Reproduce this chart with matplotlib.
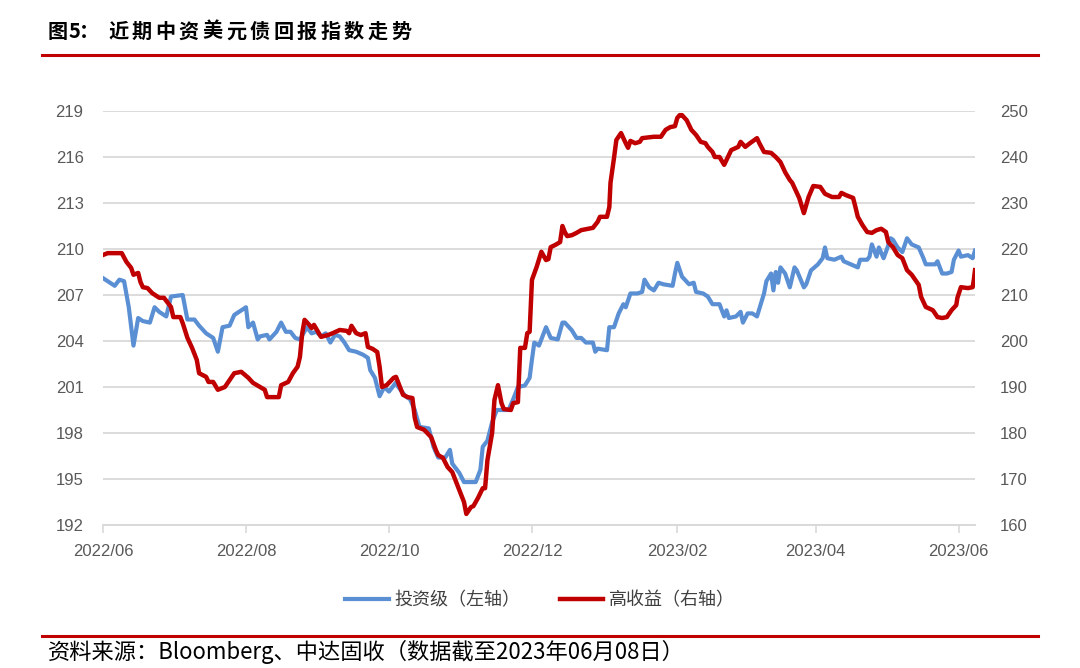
import pandas as pd
import matplotlib
matplotlib.use("Agg")
import matplotlib.pyplot as plt
import matplotlib.dates as mdates
from matplotlib.lines import Line2D

plt.rcParams['font.family'] = ['Noto Sans CJK SC', 'DejaVu Sans']

start = pd.Timestamp("2022-06-01")

# investment grade index (left axis), days counted from 2022-06-01
ig_days = [0, 5, 7, 9, 11, 13, 15, 17, 20, 22, 24, 27, 29, 34, 36, 39, 41, 44, 47, 49,
           51, 54, 56, 61, 62, 64, 66, 67, 70, 71, 74, 76, 78, 80, 82, 84, 87, 89, 91, 93,
           95, 97, 99, 101, 103, 105, 108, 111, 113, 114, 116, 118, 120, 122, 125, 126, 129, 131, 133, 135,
           139, 141, 143, 146, 148, 149, 152, 154, 157, 159, 161, 162, 164, 166, 168, 170, 173, 175, 177, 180,
           182, 183, 184, 186, 189, 191, 194, 196, 197, 200, 202, 204, 206, 209, 210, 211, 215, 216, 218, 220,
           222, 223, 225, 228, 230, 231, 233, 235, 237, 239, 243, 244, 245, 247, 250, 252, 253, 256, 258, 260,
           263, 265, 266, 267, 270, 272, 273, 275, 277, 279, 282, 283, 285, 286, 287, 288, 289, 291, 293, 295,
           296, 299, 300, 302, 305, 307, 308, 309, 312, 315, 316, 319, 322, 323, 326, 327, 328, 330, 331, 333,
           334, 336, 337, 339, 341, 343, 345, 348, 350, 351, 355, 356, 358, 360, 362, 363, 365, 366, 369, 371,
           372]
ig_vals = [208.1, 207.6, 208.0, 207.9, 206.2, 203.7, 205.5, 205.3, 205.2, 206.2, 205.9, 205.6, 206.9, 207.0, 205.4, 205.4, 205.0, 204.5, 204.2, 203.3,
           204.9, 205.0, 205.7, 206.2, 204.9, 205.2, 204.1, 204.3, 204.4, 204.1, 204.6, 205.2, 204.6, 204.6, 204.2, 204.1, 204.9, 204.5, 204.6, 204.3,
           204.5, 203.9, 204.4, 204.3, 203.9, 203.4, 203.3, 203.1, 202.9, 202.1, 201.6, 200.4, 201.0, 200.7, 201.3, 201.0, 200.4, 200.2, 199.5, 198.4,
           198.3, 197.1, 196.4, 196.4, 196.9, 196.0, 195.4, 194.8, 194.8, 194.8, 195.6, 197.1, 197.5, 198.7, 199.5, 199.5, 199.5, 200.2, 201.0, 201.1,
           201.6, 202.8, 203.9, 203.7, 204.9, 204.2, 204.1, 205.2, 205.2, 204.7, 204.2, 204.2, 203.9, 203.9, 203.3, 203.5, 203.4, 204.9, 204.9, 205.8,
           206.4, 206.2, 207.1, 207.1, 207.2, 208.0, 207.5, 207.3, 207.8, 207.7, 207.6, 208.4, 209.1, 208.2, 207.7, 207.8, 207.2, 207.1, 206.9, 206.4,
           206.4, 205.6, 206.0, 205.5, 205.6, 205.9, 205.2, 205.8, 205.8, 205.6, 207.1, 207.9, 208.4, 207.3, 208.5, 207.8, 208.8, 208.4, 207.5, 208.8,
           208.6, 207.5, 207.7, 208.6, 209.0, 209.4, 210.1, 209.4, 209.3, 209.5, 209.2, 209.0, 208.8, 209.3, 209.3, 209.5, 210.3, 209.5, 210.1, 209.4,
           209.8, 210.7, 210.6, 210.1, 209.8, 210.7, 210.3, 210.1, 209.4, 209.0, 209.0, 209.2, 208.4, 208.4, 208.5, 209.3, 209.9, 209.5, 209.6, 209.4,
           209.9]

# high yield index (right axis)
hy_days = [0, 2, 5, 8, 10, 12, 13, 15, 16, 17, 19, 21, 24, 26, 29, 30, 33, 34, 36, 38,
           40, 41, 44, 45, 47, 49, 52, 54, 56, 59, 62, 64, 67, 69, 70, 72, 75, 76, 79, 81,
           83, 84, 85, 86, 88, 89, 90, 93, 96, 98, 101, 104, 105, 106, 108, 110, 112, 113, 115, 117,
           118, 119, 121, 124, 125, 128, 130, 132, 133, 134, 137, 140, 142, 143, 145, 147, 149, 150, 152, 154,
           155, 157, 158, 160, 162, 163, 164, 166, 167, 168.5, 170, 171, 174, 175, 177, 178, 180, 181, 182, 183,
           185, 187, 189, 190, 191, 193, 195, 196, 197, 198, 200, 202, 204, 207, 209, 211, 212, 215, 216, 216.5,
           218, 219, 221, 223, 224, 225, 227, 229, 230, 235, 238, 240, 242, 244, 245, 246, 247, 249, 251, 253,
           255, 257, 258, 260, 261, 263, 265, 268, 271, 272, 274, 276, 279, 280, 282, 285, 287, 289, 291, 293,
           294, 297, 299, 301, 303, 306, 308, 311, 314, 315, 317, 320, 321, 322, 324, 326, 328, 330, 332, 334,
           335, 337, 339, 341, 343, 345, 348, 349, 351, 354, 356, 358, 360, 362, 364, 364.5, 366, 369, 371, 371.5,
           372]
hy_vals = [218.7, 219.1, 219.1, 219.1, 217.2, 215.9, 214.4, 214.8, 212.8, 211.7, 211.5, 210.4, 209.4, 209.4, 207.4, 205.2, 205.2, 203.9, 200.7, 198.5,
           195.9, 193.0, 192.2, 191.1, 191.1, 189.4, 190.0, 191.5, 193.0, 193.3, 192.0, 190.9, 190.0, 189.4, 187.8, 187.8, 187.8, 190.4, 191.1, 193.0,
           194.4, 196.5, 201.7, 204.6, 203.5, 202.8, 203.5, 200.9, 201.3, 201.7, 202.4, 202.2, 201.7, 203.3, 201.7, 201.3, 201.7, 198.7, 198.3, 197.6,
           194.4, 190.0, 190.4, 192.0, 192.2, 188.3, 187.8, 187.6, 183.3, 181.3, 180.7, 179.1, 176.3, 175.2, 174.6, 172.6, 171.5, 170.2, 167.6, 165.0,
           162.4, 163.9, 164.1, 165.9, 168.0, 168.0, 174.1, 180.0, 187.2, 190.4, 186.5, 185.2, 185.0, 186.5, 186.7, 198.5, 198.5, 201.7, 202.0, 213.3,
           216.1, 219.4, 217.6, 217.8, 220.4, 220.9, 221.5, 225.0, 223.7, 222.8, 223.0, 223.5, 224.1, 224.4, 224.6, 225.9, 227.0, 227.0, 229.1, 234.4,
           239.8, 243.7, 245.2, 243.0, 242.0, 243.5, 243.0, 243.3, 244.1, 244.4, 244.4, 245.9, 246.5, 246.7, 248.5, 249.1, 249.1, 248.0, 245.9, 244.8,
           243.3, 243.0, 242.2, 241.1, 240.0, 240.0, 238.3, 241.5, 242.2, 243.3, 242.2, 243.0, 244.1, 243.0, 241.1, 240.9, 240.0, 238.9, 236.7, 235.0,
           234.4, 231.1, 227.8, 231.3, 233.7, 233.5, 232.0, 231.3, 231.3, 232.2, 231.7, 231.1, 229.1, 227.0, 225.2, 223.7, 223.5, 224.1, 224.4, 223.7,
           221.5, 220.4, 218.7, 218.0, 215.4, 214.4, 212.2, 209.6, 207.4, 206.7, 205.2, 205.0, 205.2, 206.7, 207.8, 209.4, 211.7, 211.5, 211.7, 213.3,
           215.4]

left_ticks = [192, 195, 198, 201, 204, 207, 210, 213, 216, 219]
right_ticks = [160, 170, 180, 190, 200, 210, 220, 230, 240, 250]

title = "图5：近期中资美元债回报指数走势"
ig_label = "投资级（左轴）"
hy_label = "高收益（右轴）"
source = "资料来源：Bloomberg、中达固收（数据截至2023年06月08日）"

blue = "#5B8FD4"
red = "#C00000"
grey = "#595959"
gridc = "#D9D9D9"

ig_dates = start + pd.to_timedelta(ig_days, unit="D")
hy_dates = start + pd.to_timedelta(hy_days, unit="D")

fig = plt.figure(figsize=(10.8, 6.68), dpi=100)
ax = fig.add_axes([103 / 1080, 1 - 525 / 668, 872 / 1080, 414 / 668])
ax2 = ax.twinx()

l1, = ax.plot(ig_dates, ig_vals, color=blue, lw=3.0, solid_joinstyle="round")
l2, = ax2.plot(hy_dates, hy_vals, color=red, lw=3.2, solid_joinstyle="round")

ax.set_ylim(192, 219)
ax2.set_ylim(160, 250)
ax.set_yticks(left_ticks)
ax2.set_yticks(right_ticks)
ax.set_xlim(start, start + pd.Timedelta(days=372))
ax.xaxis.set_major_locator(mdates.MonthLocator(bymonth=[2, 4, 6, 8, 10, 12]))
ax.xaxis.set_major_formatter(mdates.DateFormatter("%Y/%m"))

ax.grid(axis="y", color=gridc, lw=1.3)
ax.set_axisbelow(True)
for a in (ax, ax2):
    for s in ("top", "left", "right"):
        a.spines[s].set_visible(False)
    a.spines["bottom"].set_color(gridc)
    a.spines["bottom"].set_linewidth(1.3)

tickfont = ['Liberation Sans', 'DejaVu Sans']
ax.tick_params(axis="y", length=0, pad=14, labelsize=12, labelcolor=grey)
ax2.tick_params(axis="y", length=0, pad=18, labelsize=12, labelcolor=grey)
ax.tick_params(axis="x", length=6, width=1.2, color=gridc, pad=8, labelsize=12, labelcolor=grey)
for lab in ax.get_xticklabels() + ax.get_yticklabels() + ax2.get_yticklabels():
    lab.set_family(tickfont)

fig.legend([l1, l2], [ig_label, hy_label], loc="center", bbox_to_anchor=(0.5, 1 - 600 / 668),
           ncol=2, frameon=False, handlelength=2.4, columnspacing=2.2, handletextpad=0.3,
           prop={'size': 13}, labelcolor="#404040")

# title with wide character spacing, as in the source
x = 48
for i, ch in enumerate(title):
    fig.text(x / 1080, 1 - 31 / 668, ch, fontsize=14.5, fontweight="bold", va="center", ha="left")
    if ch.isascii():
        x += 10
    elif ch == "：":
        x += 29
    elif i == 0:
        x += 21
    else:
        x += 23.6
fig.add_artist(Line2D([42 / 1080, 1038 / 1080], [1 - 55 / 668] * 2, color=red, lw=2.2))
fig.add_artist(Line2D([42 / 1080, 1038 / 1080], [1 - 636 / 668] * 2, color=red, lw=2.2))
fig.text(48 / 1080, 1 - 652 / 668, source, fontsize=16, va="center", ha="left")

fig.savefig("out.png", dpi=100)
